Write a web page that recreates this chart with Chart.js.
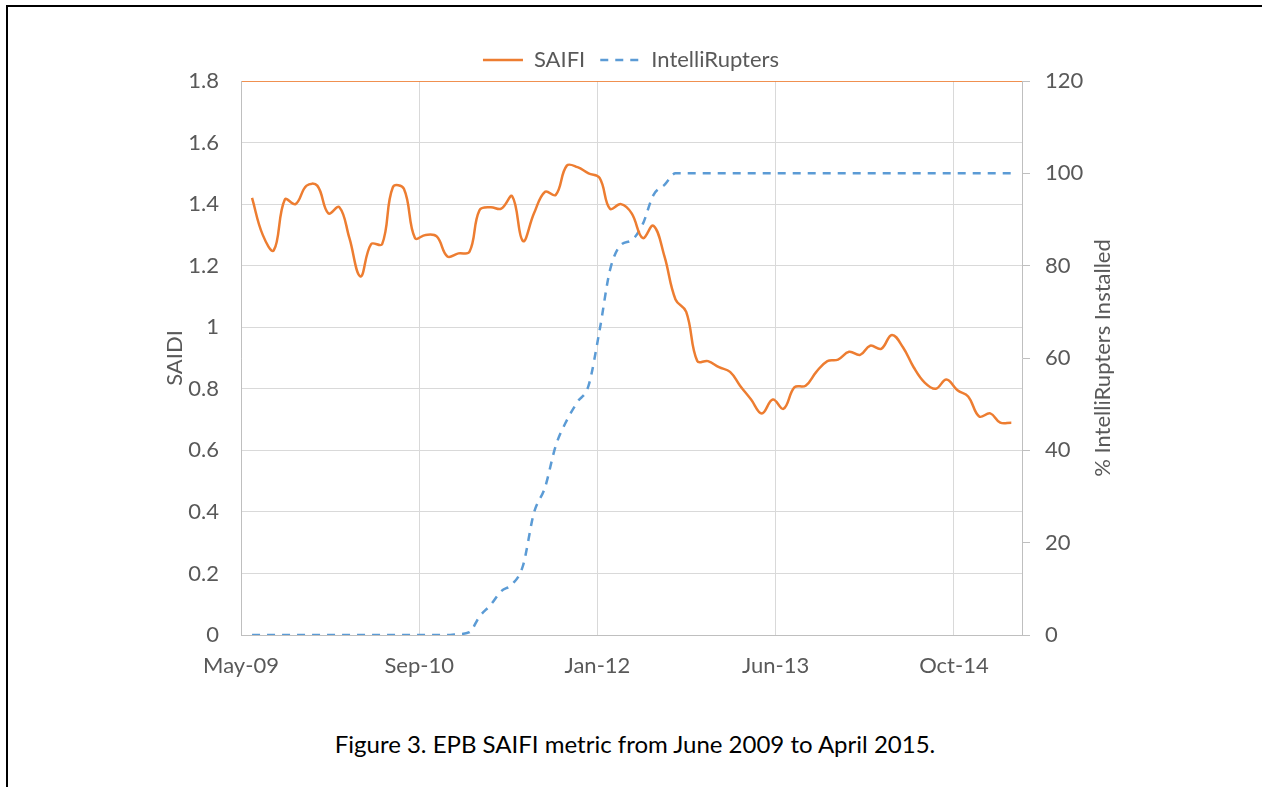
<!DOCTYPE html>
<html>
<head>
<meta charset="utf-8">
<script src="https://cdn.jsdelivr.net/npm/chart.js@4.4.1/dist/chart.umd.min.js"></script>
<style>
  html, body { margin: 0; padding: 0; background: #fff; overflow: hidden; }
  body { width: 1262px; height: 787px; position: relative; }
  #frame { position: absolute; left: 6px; top: 5px; width: 2000px; height: 2000px;
           border-top: 2px solid #000; border-left: 2px solid #000; }
  #chartBox { position: absolute; left: 0; top: 0; }
  #caption { position: absolute; left: 0; top: 729px; width: 1270px; text-align: center;
             font-family: Lato, sans-serif; font-size: 24px; color: #000; }
</style>
</head>
<body>
<div id="frame"></div>
<canvas id="chartBox" width="1262" height="685"></canvas>
<div id="caption">Figure 3. EPB SAIFI metric from June 2009 to April 2015.</div>
<script>
// monthly readings, June 2009 - April 2015
const months = [
    '2009-06', '2009-07', '2009-08', '2009-09', '2009-10', '2009-11', '2009-12',
    '2010-01', '2010-02', '2010-03', '2010-04', '2010-05', '2010-06',
    '2010-07', '2010-08', '2010-09', '2010-10', '2010-11', '2010-12',
    '2011-01', '2011-02', '2011-03', '2011-04', '2011-05', '2011-06',
    '2011-07', '2011-08', '2011-09', '2011-10', '2011-11', '2011-12',
    '2012-01', '2012-02', '2012-03', '2012-04', '2012-05', '2012-06',
    '2012-07', '2012-08', '2012-09', '2012-10', '2012-11', '2012-12',
    '2013-01', '2013-02', '2013-03', '2013-04', '2013-05', '2013-06',
    '2013-07', '2013-08', '2013-09', '2013-10', '2013-11', '2013-12',
    '2014-01', '2014-02', '2014-03', '2014-04', '2014-05', '2014-06',
    '2014-07', '2014-08', '2014-09', '2014-10', '2014-11', '2014-12',
    '2015-01', '2015-02', '2015-03', '2015-04'
];

const saifi = [
    1.42, 1.30, 1.25, 1.415, 1.40, 1.46, 1.46,
    1.37, 1.39, 1.29, 1.165, 1.27, 1.27,
    1.455, 1.45, 1.29, 1.30, 1.295, 1.23,
    1.24, 1.245, 1.38, 1.39, 1.385, 1.425,
    1.28, 1.37, 1.44, 1.43, 1.525, 1.52,
    1.50, 1.485, 1.385, 1.40, 1.37, 1.29,
    1.33, 1.23, 1.09, 1.05, 0.89, 0.89,
    0.87, 0.855, 0.81, 0.765, 0.72, 0.765,
    0.735, 0.805, 0.81, 0.855, 0.89, 0.895,
    0.92, 0.91, 0.94, 0.93, 0.975, 0.935,
    0.87, 0.82, 0.80, 0.83, 0.795, 0.775,
    0.71, 0.72, 0.69, 0.69
];

const intelliRupters = [
    0, 0, 0, 0, 0, 0, 0,
    0, 0, 0, 0, 0, 0,
    0, 0, 0, 0, 0, 0,
    0.2, 0.6, 4, 6.5, 9.5, 11,
    15, 26.5, 32, 41, 46.5, 50.5,
    54, 66, 79, 84.5, 85.5, 89,
    95.3, 97.5, 100, 100, 100, 100,
    100, 100, 100, 100, 100, 100,
    100, 100, 100, 100, 100, 100,
    100, 100, 100, 100, 100, 100,
    100, 100, 100, 100, 100, 100,
    100, 100, 100, 100
];

// x axis runs in days from 1 May 2009, labelled every 500 days
const axisStart = Date.UTC(2009, 4, 1);
const axisEndDay = 2191;
const xTickDays = [0, 500, 1000, 1500, 2000];
const xTickLabels = ['May-09', 'Sep-10', 'Jan-12', 'Jun-13', 'Oct-14'];
const rightTitle = '% IntelliRupters Installed';

function dayOf(m) {
    const [y, mo] = m.split('-').map(Number);
    return (Date.UTC(y, mo - 1, 1) - axisStart) / 86400000;
}

const days = months.map(dayOf);

Chart.defaults.font.family = 'Lato, sans-serif';
Chart.defaults.font.size = 22;
Chart.defaults.color = '#595959';

const gridColor = '#d9d9d9';
const axisColor = '#bfbfbf';

// right axis title reads bottom-to-top, like the left one
const rightTitlePlugin = {
    id: 'rightTitle',
    afterDraw(chart) {
        const c = chart.ctx;
        const area = chart.chartArea;
        const x = chart.scales.y2.right - 159;
        c.save();
        c.translate(x, (area.top + area.bottom) / 2);
        c.rotate(-Math.PI / 2);
        c.font = '22px Lato, sans-serif';
        c.fillStyle = '#595959';
        c.textAlign = 'center';
        c.textBaseline = 'middle';
        c.fillText(rightTitle, 0, 0);
        c.restore();
    }
};

const ctx = document.getElementById('chartBox').getContext('2d');

const chart = new Chart(ctx, {
    type: 'line',
    data: {
        datasets: [{
            label: 'SAIFI',
            data: days.map((d, i) => ({ x: d, y: saifi[i] })),
            yAxisID: 'y',
            borderColor: '#ED7D31',
            backgroundColor: '#ED7D31',
            borderWidth: 2.5,
            pointRadius: 0,
            tension: 0.4,
            fill: false,
        }, {
            label: 'IntelliRupters',
            data: days.map((d, i) => ({ x: d, y: intelliRupters[i] })),
            yAxisID: 'y2',
            borderColor: '#5B9BD5',
            backgroundColor: '#5B9BD5',
            borderWidth: 2.5,
            borderDash: [8, 7],
            pointRadius: 0,
            cubicInterpolationMode: 'monotone',
            fill: false,
        }],
    },
    options: {
        responsive: false,
        animation: false,
        devicePixelRatio: 1,
        layout: { padding: { top: 14, left: 0, right: 0, bottom: 0 } },
        plugins: {
            legend: {
                position: 'top',
                labels: {
                    usePointStyle: true,
                    pointStyle: 'line',
                    pointStyleWidth: 40,
                    padding: 15,
                    color: '#595959',
                    font: { size: 22 },
                    generateLabels: (chart) => {
                        const items = Chart.defaults.plugins.legend.labels.generateLabels(chart);
                        items.forEach(item => {
                            const ds = chart.data.datasets[item.datasetIndex];
                            item.lineDash = ds.borderDash || [];
                            item.lineWidth = ds.borderWidth;
                            item.strokeStyle = ds.borderColor;
                        });
                        return items;
                    },
                },
            },
            tooltip: { enabled: false },
        },
        scales: {
            x: {
                type: 'linear',
                min: 0,
                max: axisEndDay,
                afterBuildTicks: (scale) => {
                    scale.ticks = xTickDays.map(v => ({ value: v }));
                },
                afterFit: (scale) => { scale.height = 50; },
                ticks: {
                    padding: 18,
                    maxRotation: 0,
                    autoSkip: false,
                    callback: (v) => xTickLabels[xTickDays.indexOf(v)],
                },
                grid: { color: gridColor, drawTicks: false },
                border: { color: axisColor },
            },
            y: {
                position: 'left',
                min: 0,
                max: 1.8,
                afterFit: (scale) => { scale.width = 241; scale.paddingTop = 81; },
                ticks: {
                    stepSize: 0.2,
                    padding: 22,
                    callback: (v) => String(Math.round(v * 10) / 10),
                },
                grid: {
                    drawTicks: false,
                    color: (c) => (c.tick && Math.abs(c.tick.value - 1.8) < 1e-6) ? 'rgba(237,125,49,0.85)' : gridColor,
                },
                border: { color: axisColor },
                title: {
                    display: true,
                    text: 'SAIDI',
                    color: '#595959',
                    font: { size: 22 },
                    padding: { top: 162, bottom: 0 },
                },
            },
            y2: {
                position: 'right',
                min: 0,
                max: 120,
                afterFit: (scale) => { scale.width = 240; },
                ticks: { stepSize: 20, padding: 15 },
                grid: { drawOnChartArea: false, drawTicks: true, tickLength: 8, color: axisColor },
                border: { color: axisColor },
            },
        },
    },
    plugins: [rightTitlePlugin],
});
</script>
</body>
</html>
